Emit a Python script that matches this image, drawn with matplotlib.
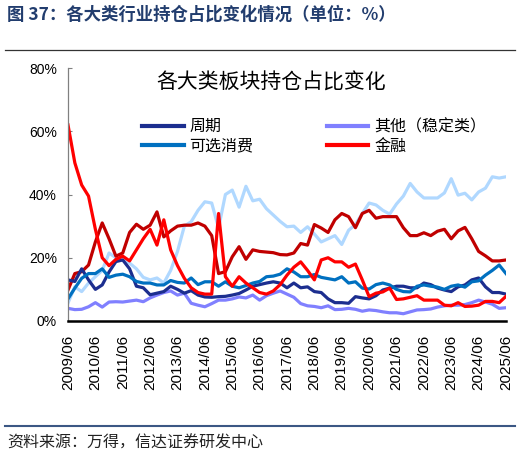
import numpy as np
import matplotlib
matplotlib.use("Agg")
import matplotlib.pyplot as plt
from matplotlib.lines import Line2D
from matplotlib.ticker import FuncFormatter

plt.rcParams["font.family"] = ["Liberation Sans", "Noto Sans CJK SC", "DejaVu Sans"]

# quarterly dates, 2009/06 .. 2025/06
dates = [f"{y}/{m:02d}" for y in range(2009, 2026) for m in (3, 6, 9, 12)][1:-2]
tick_labels = [f"{y}/06" for y in range(2009, 2026)]

# 持仓占比 (%)
zhouqi = [13, 12.5, 16.5, 13, 10, 11.4, 15.5, 18.8, 19.3, 16.5, 11, 10.5, 8.3, 8.8, 9.3, 11,
          10, 8.8, 9.6, 8.2, 7.6, 7.5, 7.7, 7.8, 8.2, 8.7, 9.8, 11, 11.5, 12, 12.4, 12,
          10.5, 12, 10.5, 10.8, 9.3, 9, 7, 5.8, 5.8, 5.6, 7.7, 7.3, 7, 8, 9.8, 10.4,
          11, 11, 10.5, 10.5, 12, 11.5, 10.4, 9.8, 9.3, 10.8, 11.4, 13, 13.6, 10.8, 9, 9, 8.5]
qita = [4, 3.6, 3.7, 4.5, 5.8, 4.4, 6, 6.1, 6, 6.3, 6.6, 6.1, 7.3, 8.2, 9, 9.5,
        8.2, 8.8, 5.6, 5, 4.5, 5.5, 6.6, 6.6, 7, 7.6, 7.3, 8.2, 6.6, 8, 8.8, 9.5,
        8.5, 7.5, 5.5, 4.8, 4.6, 4.2, 4.8, 3.6, 3.7, 4, 3.7, 3.1, 3.5, 3.3, 2.9, 2.6,
        2.6, 2.3, 2.9, 3.5, 3.6, 3.8, 4.4, 4.8, 5, 5, 5.2, 5.8, 6.6, 6, 5.3, 4, 4.2]
kexuan = [7, 10.4, 13.5, 15, 15, 16.5, 13.8, 14.5, 14.8, 14, 12.5, 12, 12, 11.4, 11.4, 12.8,
          12.2, 12, 13.6, 11.5, 12.4, 12.4, 11, 12.4, 11, 10.5, 11.2, 12, 12.5, 14, 14.2, 14.8,
          16.5, 15.5, 14, 14, 14.7, 13.8, 13.4, 13, 14, 12, 12.4, 10.4, 10.1, 11.5, 12, 11.4,
          10, 9.3, 9.2, 11, 11.4, 11, 10.7, 10, 11, 11.4, 10.7, 12.4, 12.7, 14.5, 16, 17.7, 15]
jinrong = [62, 50, 43, 39.5, 29, 20, 17.5, 19.5, 20.5, 19, 22.5, 26, 29, 24, 32, 22.5,
           17.5, 13.5, 10.5, 9, 8.5, 8.5, 34, 14, 11, 14, 12, 10.5, 9, 8.5, 9.5, 11.5,
           14.5, 17, 18.7, 16, 13, 19.3, 20, 18.7, 18.7, 17, 18, 13, 7.7, 8.8, 9.2, 10.4,
           6.8, 7, 7.5, 8, 6.6, 6.6, 6.6, 5, 4.8, 5.8, 4.6, 4.7, 5, 6.2, 6.2, 5.8, 7.8]
# two more series drawn without legend entries
dark_red = [9.8, 15, 15.6, 17.7, 25, 31, 26, 20.5, 21.5, 28, 30.6, 29, 30.3, 34.5, 26.6, 28.5,
            30, 30.3, 30.3, 31, 30, 27, 15, 15.6, 20.3, 23.5, 19.5, 22.5, 22, 21.8, 21.6, 21,
            20.9, 21.5, 24.5, 24, 30.5, 29.4, 28, 32, 34, 33, 29.5, 34, 35, 32.5, 33, 33,
            33, 29.5, 27, 27, 27.9, 27, 28.4, 29, 26, 28.5, 29.6, 26, 22, 20.6, 19, 19, 19.3]
sky_blue = [5.7, 10.8, 9.3, 12, 14, 16, 21.5, 20, 19.3, 18.3, 16.5, 13.8, 13, 13.6, 12, 16,
            22, 30, 31.4, 35, 37.7, 37.3, 29.4, 40, 41.4, 36, 42.6, 38, 38.5, 35.5, 33.5, 31.5,
            29.8, 30, 28, 29.8, 27.5, 25, 26, 27, 24.2, 28.7, 30.5, 34, 37.3, 36.7, 35, 33.8,
            37, 39.5, 43.5, 40.8, 38.9, 38.9, 38.9, 40.5, 45, 39.8, 40.4, 38.3, 40.8, 42, 45.6, 45.2, 45.6]

x = np.arange(len(dates))

fig = plt.figure(figsize=(5.2, 4.57), dpi=100)
ax = fig.add_axes([68 / 520, 1 - 321 / 457, 438 / 520, 253 / 457])

lw = 2.3
ax.plot(x, sky_blue, color="#B0D8FF", lw=lw)
ax.plot(x, dark_red, color="#C00000", lw=lw)
ax.plot(x, qita, color="#8080FF", lw=lw)
ax.plot(x, zhouqi, color="#1C2E8F", lw=lw)
ax.plot(x, kexuan, color="#0070C0", lw=lw)
ax.plot(x, jinrong, color="#FF0000", lw=lw)

ax.set_xlim(0, len(dates) - 1)
ax.set_ylim(0, 80)
ax.set_yticks([0, 20, 40, 60, 80])
ax.yaxis.set_major_formatter(FuncFormatter(lambda v, p: f"{v:.0f}%"))
ax.set_xticks(x[::4])
ax.set_xticklabels(tick_labels, rotation=90)
ax.tick_params(axis="y", direction="in", length=3, width=0.8, color="#808080", labelsize=10, pad=8)
ax.tick_params(axis="x", length=0, labelsize=11, pad=10)

for s in ("top", "right"):
  ax.spines[s].set_visible(False)
ax.spines["left"].set_color("#808080")
ax.spines["left"].set_linewidth(0.9)
ax.spines["bottom"].set_color("black")
ax.spines["bottom"].set_linewidth(1.8)

handles = [Line2D([], [], color=c, lw=3) for c in ("#1C2E8F", "#0070C0", "#8080FF", "#FF0000")]
labels = ["周期", "可选消费", "其他（稳定类）", "金融"]
fig.legend(handles, labels, ncol=2, loc="upper left", bbox_to_anchor=(128 / 520, 1 - 104 / 457),
           frameon=False, prop={"family": "Noto Sans CJK SC", "size": 11.5},
           handlelength=2.6, handletextpad=0.35, columnspacing=4.6, labelspacing=0.15)

fig.text(271 / 520, 1 - 83 / 457, "各大类板块持仓占比变化", ha="center", va="center",
         family="Noto Sans CJK SC", fontsize=15)

fig.text(7 / 520, 1 - 15 / 457, "图 37：各大类行业持仓占比变化情况（单位：%）", ha="left", va="center",
         family="Noto Sans CJK SC", fontsize=12.5, weight="bold", color="#223D6E")
fig.add_artist(Line2D([5 / 520, 515 / 520], [1 - 50 / 457] * 2, color="#333333", lw=0.9))
fig.add_artist(Line2D([5 / 520, 515 / 520], [1 - 426 / 457] * 2, color="#3B5784", lw=1.5))
fig.text(7 / 520, 1 - 443 / 457, "资料来源：万得，信达证券研发中心", ha="left", va="center",
         family="Noto Sans CJK SC", fontsize=11.5, color="#222222")

fig.savefig("out.png", dpi=100)
